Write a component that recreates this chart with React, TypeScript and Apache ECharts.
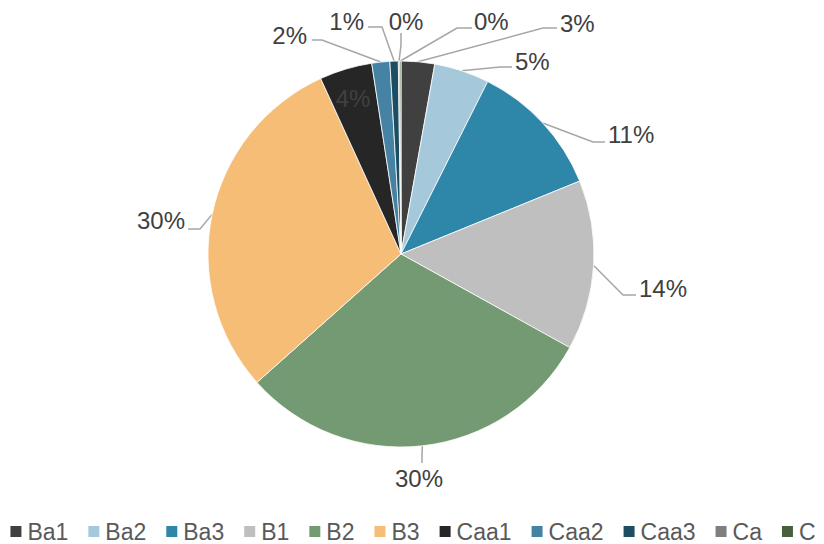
import React, { useEffect, useRef } from "react";
import * as echarts from "echarts";

const categories = ["Ba1", "Ba2", "Ba3", "B1", "B2", "B3", "Caa1", "Caa2", "Caa3", "Ca", "C"];
const shares = [2.8, 4.6, 11.4, 14.2, 30.3, 29.7, 4.4, 1.5, 0.7, 0.12, 0.1];
const colors = ["#404040", "#a5c8da", "#2e86a8", "#bfbfbf", "#739a72", "#f6bd76", "#262626", "#4682a3", "#1b4e60", "#7f7f7f", "#46603f"];

// label placement (layout only): text anchor, alignment, and the line's elbow / end
const labelSpots: any[] = [
  { x: 560, y: 23, align: "left", line: [[543, 28], [557, 28]] },
  { x: 515, y: 61, align: "left", line: [[500, 67], [512, 67]] },
  { x: 608, y: 134, align: "left", line: [[593, 142], [605, 142]] },
  { x: 639, y: 288, align: "left", line: [[623, 295], [636, 295]] },
  { x: 419, y: 478, align: "center", line: [[422, 455], [422, 463]] },
  { x: 185, y: 220, align: "right", line: [[200, 229], [188, 229]] },
  { x: 353, y: 98, align: "center", line: null },
  { x: 307, y: 35, align: "right", line: [[322, 40], [312, 40]] },
  { x: 364, y: 21, align: "right", line: [[382, 27], [368, 27]] },
  { x: 406, y: 21, align: "center", line: [[401, 45], [401, 33]] },
  { x: 474, y: 21, align: "left", line: [[457, 28], [472, 28]] },
];

const FONT = "'Liberation Sans', Arial, sans-serif";

export default function App() {
  const ref = useRef<HTMLDivElement>(null);
  useEffect(() => {
    if (!ref.current) return;
    const chart = echarts.init(ref.current, undefined, { renderer: "svg" });
    const total = shares.reduce((a, b) => a + b, 0);
    const data = categories.map((name, i) => {
      const item: any = { name, value: shares[i], itemStyle: { color: colors[i] } };
      if (i === 6) {
        item.label = { position: "inside" };
        item.labelLine = { show: false };
      }
      return item;
    });
    chart.setOption({
      animation: false,
      textStyle: { fontFamily: FONT },
      legend: {
        data: categories,
        left: "center",
        top: 515,
        icon: "rect",
        itemWidth: 13,
        itemHeight: 13,
        itemGap: 18,
        textStyle: { fontFamily: FONT, fontSize: 23, color: "#595959" },
      },
      series: [
        {
          type: "pie",
          center: [401, 254],
          radius: 193,
          startAngle: 90,
          clockwise: true,
          avoidLabelOverlap: false,
          emphasis: { disabled: true },
          itemStyle: { borderColor: "#ffffff", borderWidth: 0.8 },
          label: {
            show: true,
            position: "outside",
            fontFamily: FONT,
            fontSize: 24,
            color: "#404040",
            formatter: (p: any) => Math.round((p.value / total) * 100) + "%",
          },
          labelLine: {
            show: true,
            length: 10,
            length2: 10,
            lineStyle: { color: "#a6a6a6", width: 1.5 },
          },
          labelLayout: (p: any) => {
            const s = labelSpots[p.dataIndex];
            if (!s) return {};
            const out: any = { x: s.x, y: s.y, align: s.align, verticalAlign: "middle" };
            if (s.line && p.labelLinePoints && p.labelLinePoints[0]) {
              const start = p.labelLinePoints[0];
              out.labelLinePoints = [[start[0], start[1]], s.line[0], s.line[1]];
            }
            return out;
          },
          data,
        },
      ],
    });
    return () => chart.dispose();
  }, []);
  return <div ref={ref} style={{ position: "fixed", left: 0, top: 0, width: 824, height: 544, background: "#fff" }} />;
}
